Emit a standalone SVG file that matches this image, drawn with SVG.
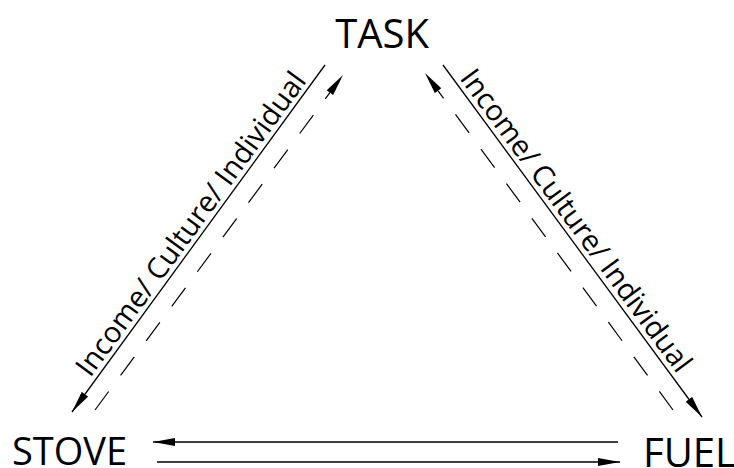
<svg xmlns="http://www.w3.org/2000/svg" width="734" height="468" viewBox="0 0 734 468">
<style>
.node{font-family:"Open Sans","Liberation Sans",sans-serif;font-size:40px;fill:#000}
.lbl{font-family:"Open Sans","Liberation Sans",sans-serif;font-size:29px;fill:#000}
.ln{stroke:#000;stroke-width:1.3;fill:none}
.dash{stroke:#000;stroke-width:1.2;fill:none;stroke-dasharray:23 20}
</style>
<defs>
<marker id="ah" viewBox="0 0 22 8" refX="22" refY="4" markerWidth="22" markerHeight="8" markerUnits="userSpaceOnUse" orient="auto">
<path d="M0,0 L22,4 L0,8 z" fill="#000"/>
</marker>
</defs>
<rect width="734" height="468" fill="#fff"/>
<g id="task"><text class="node" x="382" y="48" text-anchor="middle">TASK</text></g>
<g id="stove"><text class="node" x="12" y="465" style="font-size:38px">STOVE</text></g>
<g id="fuel"><text class="node" x="643" y="467">FUEL</text></g>
<g id="connectors">
<line class="ln" x1="325" y1="65" x2="72" y2="412" marker-end="url(#ah)"/>
<line class="dash" x1="95" y1="410" x2="343" y2="75" marker-end="url(#ah)"/>
<line class="ln" x1="443" y1="65" x2="702" y2="417" marker-end="url(#ah)"/>
<line class="dash" x1="673" y1="410" x2="425" y2="73" marker-end="url(#ah)"/>
<line class="ln" x1="618" y1="442" x2="153" y2="442" marker-end="url(#ah)"/>
<line class="ln" x1="157" y1="462" x2="620" y2="462" marker-end="url(#ah)"/>
</g>
<g id="label-left" transform="translate(72,412) rotate(-53.9)"><text class="lbl" x="38" y="-5">Income/ Culture/ Individual</text></g>
<g id="label-right" transform="translate(443,65) rotate(53.6)"><text class="lbl" x="20" y="-5">Income/ Culture/ Individual</text></g>
</svg>
